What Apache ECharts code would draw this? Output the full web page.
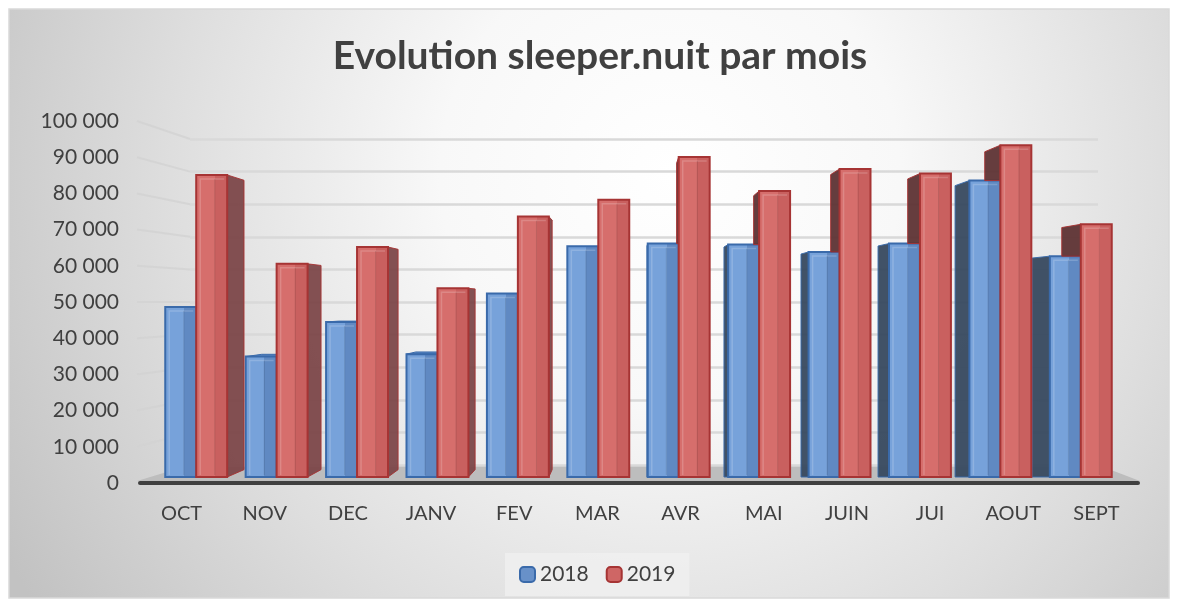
<!DOCTYPE html>
<html>
<head>
<meta charset="utf-8">
<script src="https://cdn.jsdelivr.net/npm/echarts@6/dist/echarts.min.js"></script>
</head>
<body style="margin:0;background:#fff">
<div id="main" style="width:1178px;height:604px;"></div>
<script type="text/javascript">

var months = ['OCT', 'NOV', 'DEC', 'JANV', 'FEV', 'MAR', 'AVR', 'MAI', 'JUIN', 'JUI', 'AOUT', 'SEPT'];
var v2018 = [48600, 34400, 44300, 35100, 52400, 65900, 66700, 66400, 64300, 66700, 84700, 63100];
var v2019 = [86300, 60900, 65700, 53900, 74400, 79200, 91400, 81700, 88000, 86700, 94800, 72200];
var yMax = 100000, yStep = 10000;

// fake perspective : vanishing point + depth of the bars
var VP = [628, 302];
var DEPTH = 0.958;
function back(p) {
  return [VP[0] + (p[0] - VP[0]) * DEPTH, VP[1] + (p[1] - VP[1]) * DEPTH];
}

var palette = [
  {light: '#77a2da', dark: '#6089c2', border: '#3a6aaa', side: '#37495f', top: '#5b87c2'},
  {light: '#d66e6c', dark: '#c9605f', border: '#a63434', side: '#7a4244', top: '#c05654'}
];

function fmt(v) {
  return String(v).replace(/\B(?=(\d{3})+(?!\d))/g, ' ');
}

function renderBar(idx) {
  var c = palette[idx];
  return function (params, api) {
    var i = api.value(0);
    var top = api.coord([i, api.value(1)]);
    var base = api.coord([i, 0]);
    var w = api.size([1, 0])[0] * 0.385;
    var x0 = idx === 0 ? top[0] - w : top[0];
    var x1 = x0 + w;
    var y0 = top[1], y1 = base[1];
    var kids = [];

    // side face
    if (x1 < VP[0] && idx === 1) {
      kids.push({type: 'polygon', shape: {points: [[x1, y0], back([x1, y0]), back([x1, y1]), [x1, y1]]},
        style: {fill: c.side, stroke: c.border, lineWidth: 1, opacity: 0.92}});
    } else if (x0 > VP[0]) {
      var yb = y1;
      if (idx === 1) yb = api.coord([i, api.value(2)])[1];
      if (yb > y0) {
        var bt = back([x0, y0]);
        kids.push({type: 'polygon', shape: {points: [[x0, y0], bt, [bt[0], yb], [x0, yb]]},
          style: {fill: idx === 1 ? '#5e3334' : c.side, stroke: c.border, lineWidth: 1, opacity: 0.95}});
      }
    }
    // top face, only seen under eye level
    if (y0 > VP[1]) {
      kids.push({type: 'polygon', shape: {points: [[x0, y0], [x1, y0], back([x1, y0]), back([x0, y0])]},
        style: {fill: c.top, stroke: c.border, lineWidth: 1}});
    }
    // front face
    kids.push({type: 'rect', shape: {x: x0, y: y0, width: w, height: y1 - y0},
      style: {
        fill: {type: 'linear', x: 0, y: 0, x2: 1, y2: 0, colorStops: [
          {offset: 0, color: c.light}, {offset: 0.6, color: c.light},
          {offset: 0.6, color: c.dark}, {offset: 1, color: c.dark}]},
        stroke: c.border, lineWidth: 2
      }});
    kids.push({type: 'polyline', shape: {points: [[x0 + 4, y1 - 2], [x0 + 4, y0 + 4], [x1 - 3, y0 + 4]]},
      style: {stroke: 'rgba(255,255,255,0.18)', lineWidth: 1.5, fill: null}});
    kids.push({type: 'line', shape: {x1: x0 + w * 0.6, y1: y0 + 4, x2: x0 + w * 0.6, y2: y1 - 2},
      style: {stroke: 'rgba(0,0,0,0.12)', lineWidth: 1}});
    return {type: 'group', children: kids};
  };
}

var myChart = echarts.init(document.getElementById('main'));

var font = 'Lato, "Open Sans", sans-serif';

option = {
  animation: false,
  textStyle: {fontFamily: font},
  title: {
    text: 'Evolution sleeper.nuit par mois',
    left: 595,
    textAlign: 'center',
    top: 32,
    textStyle: {fontSize: 39, fontWeight: 'bold', color: '#404040', fontFamily: font}
  },
  legend: {
    bottom: 8,
    left: 505,
    itemWidth: 15,
    itemHeight: 15,
    itemGap: 17,
    padding: [11, 14],
    backgroundColor: 'rgba(240,240,240,0.75)',
    textStyle: {fontSize: 21, color: '#404040'},
    data: [
      {name: '2018', itemStyle: {color: '#6891c9', borderColor: '#3a6aaa', borderWidth: 2}},
      {name: '2019', itemStyle: {color: '#cf6665', borderColor: '#a63434', borderWidth: 2}}
    ]
  },
  grid: [
    {left: 140, right: 40, top: 121, bottom: 121},
    {left: 190, right: 80, top: 139, bottom: 139},
    {left: 156, right: 57, top: 127, bottom: 127}
  ],
  xAxis: [
    {type: 'category', gridIndex: 0, data: months,
      axisLine: {lineStyle: {color: '#404040', width: 4}},
      axisTick: {show: false},
      axisLabel: {fontSize: 20, color: '#404040', margin: 21}},
    {type: 'category', gridIndex: 1, data: months, show: false},
    {type: 'category', gridIndex: 2, data: months, show: false}
  ],
  yAxis: [
    {type: 'value', gridIndex: 0, min: 0, max: yMax, interval: yStep,
      splitLine: {show: false},
      axisLabel: {fontSize: 21, color: '#404040', margin: 21, formatter: fmt}},
    {type: 'value', gridIndex: 1, min: 0, max: yMax, interval: yStep,
      axisLabel: {show: false}, axisLine: {show: false}, axisTick: {show: false},
      splitLine: {lineStyle: {color: '#d9d9d9', width: 2.5}}},
    {type: 'value', gridIndex: 2, min: 0, max: yMax, show: false}
  ],
  series: [
    {
      name: '2018', type: 'custom', xAxisIndex: 2, yAxisIndex: 2,
      renderItem: renderBar(0), encode: {x: 0, y: 1},
      itemStyle: {color: '#6891c9'},
      data: months.map(function (m, i) { return [i, v2018[i], v2019[i]]; })
    },
    {
      name: '2019', type: 'custom', xAxisIndex: 2, yAxisIndex: 2,
      renderItem: renderBar(1), encode: {x: 0, y: 1},
      itemStyle: {color: '#cf6665'},
      data: months.map(function (m, i) { return [i, v2019[i], v2018[i]]; })
    }
  ]
};

myChart.setOption(option);

// decoration : chart area background, floor and side wall lines
var ticks = [];
for (var t = 0; t <= yMax; t += yStep) ticks.push(t);
var wall = ticks.map(function (t) {
  var yf = myChart.convertToPixel({yAxisIndex: 0}, t);
  var yb = myChart.convertToPixel({yAxisIndex: 1}, t);
  return {type: 'line', z: -5, shape: {x1: 137, y1: yf, x2: 190, y2: yb},
    style: {stroke: 'rgba(210,210,210,0.8)', lineWidth: 2}};
});
var y0f = myChart.convertToPixel({yAxisIndex: 0}, 0);
var y0b = myChart.convertToPixel({yAxisIndex: 1}, 0);

myChart.setOption({
  graphic: [
    {type: 'rect', z: -10, shape: {x: 9, y: 9, width: 1160, height: 589},
      style: {
        fill: {type: 'radial', x: 0.57, y: 0.28, r: 1.3, colorStops: [
          {offset: 0, color: '#ffffff'}, {offset: 0.3, color: '#f8f8f8'},
          {offset: 0.65, color: '#dedede'}, {offset: 1, color: '#c2c2c2'}]},
        stroke: '#d9d9d9', lineWidth: 1.5
      }},
    {type: 'polygon', z: -4, shape: {points: [[190, y0b], [1098, y0b], [1140, y0f - 2], [137, y0f - 2]]},
      style: {fill: '#bdbdbd'}}
  ].concat(wall)
});

</script>
</body>
</html>
